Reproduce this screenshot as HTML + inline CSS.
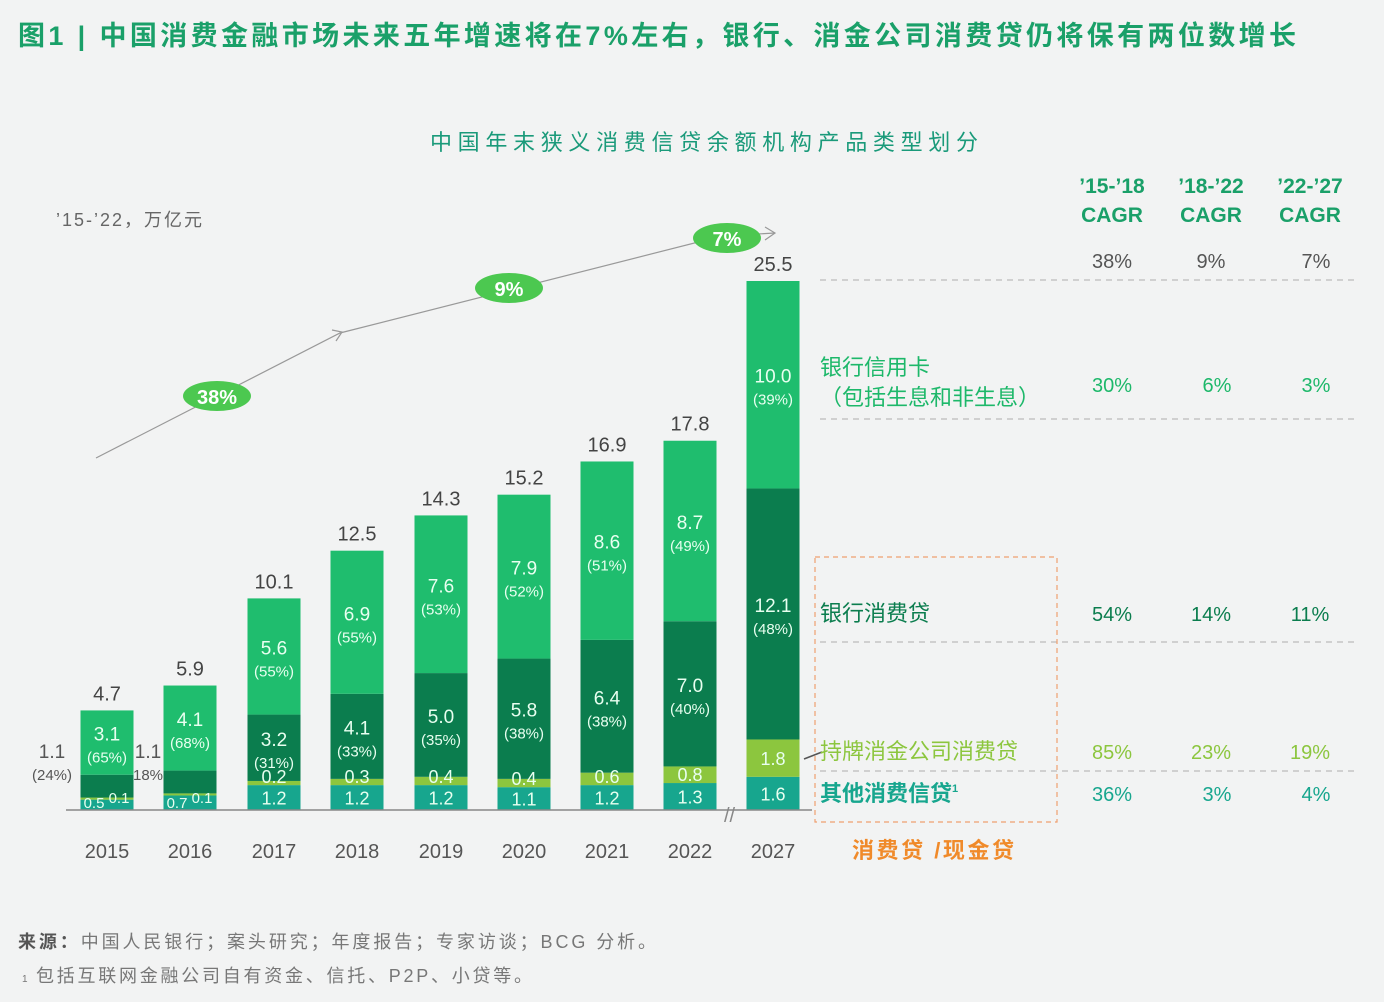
<!DOCTYPE html>
<html><head><meta charset="utf-8">
<style>
html,body{margin:0;padding:0;background:#f2f3f3;}
svg{display:block;font-family:"Liberation Sans","Noto Sans CJK SC",sans-serif;}
</style></head>
<body>
<svg id="chart" width="1384" height="1002" viewBox="0 0 1384 1002" xmlns="http://www.w3.org/2000/svg">
<rect x="0" y="0" width="1384" height="1002" fill="#f2f3f3"/>
<text x="18" y="45" font-size="27" font-weight="bold" fill="#1aa069" textLength="1278" lengthAdjust="spacing">图1 | 中国消费金融市场未来五年增速将在7%左右，银行、消金公司消费贷仍将保有两位数增长</text>
<text x="430" y="150" font-size="22" fill="#1a9a7a" textLength="548" lengthAdjust="spacing">中国年末狭义消费信贷余额机构产品类型划分</text>
<text x="56" y="226" font-size="18" fill="#666" textLength="146" lengthAdjust="spacing">’15-’22，万亿元</text>
<polyline points="96,458 340,333 722,236 775,233" fill="none" stroke="#999" stroke-width="1.2"/>
<polyline points="332,330 342,332 336,341" fill="none" stroke="#999" stroke-width="1.2"/>
<polyline points="765,227 775,233 765,240" fill="none" stroke="#999" stroke-width="1.2"/>
<g><ellipse cx="217" cy="396" rx="34" ry="15" fill="#4cc850"/><text x="217" y="404" font-size="20" font-weight="bold" fill="#fff" text-anchor="middle">38%</text></g>
<g><ellipse cx="509" cy="288" rx="34" ry="15" fill="#4cc850"/><text x="509" y="296" font-size="20" font-weight="bold" fill="#fff" text-anchor="middle">9%</text></g>
<g><ellipse cx="727" cy="238" rx="34" ry="15" fill="#4cc850"/><text x="727" y="246" font-size="20" font-weight="bold" fill="#fff" text-anchor="middle">7%</text></g>
<g id="bars"></g>
<line x1="66" y1="810" x2="812" y2="810" stroke="#888" stroke-width="1.5"/>
<text x="724" y="822" font-size="20" fill="#888">//</text>
<g font-size="21" font-weight="bold" fill="#1aa069" text-anchor="middle">
<text x="1112" y="193">’15-’18</text><text x="1112" y="222">CAGR</text>
<text x="1211" y="193">’18-’22</text><text x="1211" y="222">CAGR</text>
<text x="1310" y="193">’22-’27</text><text x="1310" y="222">CAGR</text>
</g>
<g stroke="#bbb" stroke-dasharray="6,5" stroke-width="1.2">
<line x1="820" y1="280" x2="1355" y2="280"/><line x1="820" y1="419" x2="1355" y2="419"/>
<line x1="820" y1="642" x2="1355" y2="642"/><line x1="820" y1="771" x2="1355" y2="771"/>
</g>
<rect x="815" y="557" width="242" height="265" fill="none" stroke="#f0a070" stroke-dasharray="5,4" stroke-width="1.2"/>
<g font-size="20" text-anchor="middle">
<text x="1112" y="268" fill="#555">38%</text><text x="1211" y="268" fill="#555">9%</text><text x="1316" y="268" fill="#555">7%</text>
<text x="1112" y="392" fill="#1db86a">30%</text><text x="1217" y="392" fill="#1db86a">6%</text><text x="1316" y="392" fill="#1db86a">3%</text>
<text x="1112" y="621" fill="#0b7d4e">54%</text><text x="1211" y="621" fill="#0b7d4e">14%</text><text x="1310" y="621" fill="#0b7d4e">11%</text>
<text x="1112" y="759" fill="#8cc63e">85%</text><text x="1211" y="759" fill="#8cc63e">23%</text><text x="1310" y="759" fill="#8cc63e">19%</text>
<text x="1112" y="801" fill="#17a68e">36%</text><text x="1217" y="801" fill="#17a68e">3%</text><text x="1316" y="801" fill="#17a68e">4%</text>
</g>
<g font-size="22">
<text x="820" y="375" fill="#1db86a">银行信用卡</text>
<text x="820" y="405" fill="#1db86a">（包括生息和非生息）</text>
<text x="820" y="621" fill="#0b7d4e">银行消费贷</text>
<line x1="804" y1="759" x2="822" y2="752" stroke="#555" stroke-width="1.5"/>
<text x="820" y="759" fill="#8cc63e">持牌消金公司消费贷</text>
<text x="820" y="801" fill="#17a68e" font-weight="bold">其他消费信贷<tspan font-size="11" dy="-9">1</tspan></text>
<text x="852" y="858" fill="#f08a2a" font-weight="bold" textLength="162" lengthAdjust="spacing">消费贷 /现金贷</text>
</g>
<text x="18" y="948" font-size="18" fill="#777" textLength="638" lengthAdjust="spacing"><tspan font-weight="bold" fill="#555">来源：</tspan>中国人民银行；案头研究；年度报告；专家访谈；BCG 分析。</text>
<text x="22" y="982" font-size="10" fill="#777">1</text>
<text x="36" y="982" font-size="18" fill="#777" textLength="496" lengthAdjust="spacing">包括互联网金融公司自有资金、信托、P2P、小贷等。</text>
</svg>
<script>
const years = ["2015","2016","2017","2018","2019","2020","2021","2022","2027"];
const other = [0.5,0.7,1.2,1.2,1.2,1.1,1.2,1.3,1.6];
const cfLoan = [0.1,0.1,0.2,0.3,0.4,0.4,0.6,0.8,1.8];
const bankLoan = [1.1,1.1,3.2,4.1,5.0,5.8,6.4,7.0,12.1];
const bankLoanPct = ["24%","18%","31%","33%","35%","38%","38%","40%","48%"];
const card = [3.1,4.1,5.6,6.9,7.6,7.9,8.6,8.7,10.0];
const cardPct = ["65%","68%","55%","55%","53%","52%","51%","49%","39%"];
const totals = ["4.7","5.9","10.1","12.5","14.3","15.2","16.9","17.8","25.5"];

const NS="http://www.w3.org/2000/svg";
const g=document.getElementById('bars');
const baseY=810, pxPer=529/25.5, bw=53;
const xC=i=>[107,190,274,357,441,524,607,690,773][i];
const yS=v=>baseY-v*pxPer;
function mk(tag,attrs,txt){const e=document.createElementNS(NS,tag);for(const k in attrs)e.setAttribute(k,attrs[k]);if(txt!==undefined)e.textContent=txt;g.appendChild(e);return e;}
const series=[{d:other,c:"#17a68e",n:"other"},{d:cfLoan,c:"#8cc63e",n:"consumer-finance"},{d:bankLoan,c:"#0b7d4e",n:"bank-loan"},{d:card,c:"#1fbd6e",n:"credit-card"}];
years.forEach((yr,i)=>{
  let cum=0;const x=xC(i);const tops=[];
  series.forEach(s=>{
    const y0=yS(cum), y1=yS(cum+s.d[i]);
    const r=mk('rect',{x:x-bw/2,y:y1,width:bw,height:y0-y1,fill:s.c});
    
    
    tops.push([y1,y0]);cum+=s.d[i];
  });
  const t=mk('text',{x:x,y:yS(cum)-10,'font-size':20,fill:'#444','text-anchor':'middle'},totals[i]);
  
  
  const xl=mk('text',{x:x,y:858,'font-size':20,fill:'#555','text-anchor':'middle'},yr);
  
  
  const cm=(tops[3][0]+tops[3][1])/2;
  const c1=mk('text',{x:x,y:cm-2,'font-size':19,fill:'#e8fff0','text-anchor':'middle'},card[i].toFixed(1));
  
  
  const c2=mk('text',{x:x,y:cm+20,'font-size':15,fill:'#e8fff0','text-anchor':'middle'},'('+cardPct[i]+')');
  
  
  const bm=(tops[2][0]+tops[2][1])/2;
  let bx=x, by=bm, bc='#e8fff0';
  if(i<2){bx=i==0?x-55:x-42;bc='#555';}
  const b1=mk('text',{x:bx,y:i<2?758:by-2,'font-size':19,fill:bc,'text-anchor':'middle'},bankLoan[i].toFixed(1));
  
  
  const b2=mk('text',{x:bx,y:i<2?780:by+20,'font-size':15,fill:bc,'text-anchor':'middle'},i==1?bankLoanPct[i]:'('+bankLoanPct[i]+')');
  
  
  const om=(tops[0][0]+tops[0][1])/2;
  const o=mk('text',{x:i<2?x-13:x,y:i<2?808:om+7,'font-size':i<2?15:18,fill:'#e8fff0','text-anchor':'middle'},other[i].toFixed(1));
  
  
  const fm=(tops[1][0]+tops[1][1])/2;
  const f=mk('text',{x:i<2?x+12:x,y:i<2?803:(i==8?fm+7:tops[1][1]-2),'font-size':i<2?15:18,fill:'#e8fff0','text-anchor':'middle'},cfLoan[i].toFixed(1));
  
  
});
</script>
</body></html>
